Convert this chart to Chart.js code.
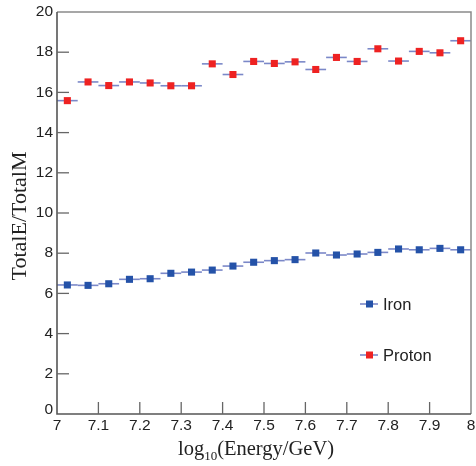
<!DOCTYPE html>
<html><head><meta charset="utf-8">
<script src="https://cdn.jsdelivr.net/npm/chart.js@4/dist/chart.umd.min.js"></script>
<style>html,body{margin:0;padding:0;background:#fff}#wrap{width:476px;height:466px}</style>
</head><body><div id="wrap"><canvas id="c" width="476" height="466"></canvas></div>
<script>
const energyBins = [7.025,7.075,7.125,7.175,7.225,7.275,7.325,7.375,7.425,7.475,7.525,7.575,7.625,7.675,7.725,7.775,7.825,7.875,7.925,7.975];
const binHalfWidth = 0.025;
const ironValues = [6.42,6.40,6.48,6.70,6.73,7.00,7.06,7.16,7.36,7.55,7.63,7.68,8.01,7.91,7.96,8.04,8.21,8.17,8.24,8.17];
const protonValues = [15.59,16.52,16.34,16.52,16.47,16.33,16.33,17.42,16.89,17.54,17.44,17.52,17.14,17.74,17.54,18.17,17.56,18.04,17.97,18.57];
const seriesNames = ['Iron','Proton'];
const xTickValues = [7,7.1,7.2,7.3,7.4,7.5,7.6,7.7,7.8,7.9,8];
const yTickValues = [0,2,4,6,8,10,12,14,16,18,20];
const yTitle = 'TotalE/TotalM';

const ironColor = '#2452a8', protonColor = '#ee2222', barColor = '#7b88c8';

const toPts = v => v.map((y,i)=>({x:energyBins[i], y}));

const decor = {
  id:'decor',
  beforeDatasetsDraw(chart){
    const {ctx, chartArea:a, scales:{x,y}} = chart;
    ctx.save();
    ctx.strokeStyle = barColor; ctx.lineWidth = 1.6;
    chart.data.datasets.forEach(ds=>{
      ds.data.forEach(p=>{
        const py = y.getPixelForValue(p.y);
        ctx.beginPath();
        ctx.moveTo(x.getPixelForValue(p.x-binHalfWidth), py);
        ctx.lineTo(x.getPixelForValue(p.x+binHalfWidth), py);
        ctx.stroke();
      });
    });
    ctx.restore();
  },
  afterDraw(chart){
    const {ctx, chartArea:a, scales:{x,y}} = chart;
    ctx.save();
    // frame
    ctx.strokeStyle = '#8a8a8a'; ctx.lineWidth = 1.5;
    ctx.beginPath(); ctx.moveTo(a.left,a.top); ctx.lineTo(a.right,a.top); ctx.lineTo(a.right,a.bottom); ctx.stroke();
    ctx.strokeStyle = '#555'; ctx.lineWidth = 1.6;
    ctx.beginPath(); ctx.moveTo(a.left,a.top); ctx.lineTo(a.left,a.bottom); ctx.lineTo(a.right,a.bottom); ctx.stroke();
    // inward ticks
    ctx.strokeStyle = '#666'; ctx.lineWidth = 1.3;
    xTickValues.forEach(v=>{ const px=x.getPixelForValue(v); if(px<=a.left+1||px>=a.right-1) return;
      ctx.beginPath(); ctx.moveTo(px,a.bottom); ctx.lineTo(px,a.bottom-12); ctx.stroke(); });
    yTickValues.forEach(v=>{ const py=y.getPixelForValue(v); if(py>=a.bottom-1||py<=a.top+1) return;
      ctx.beginPath(); ctx.moveTo(a.left,py); ctx.lineTo(a.left+12,py); ctx.stroke(); });
    // tick labels
    ctx.fillStyle = '#222'; ctx.font = '15.5px "Liberation Sans", Arial, sans-serif';
    ctx.textAlign='center'; ctx.textBaseline='middle';
    xTickValues.forEach(v=>{ ctx.fillText(String(v), x.getPixelForValue(v), a.bottom+12); });
    ctx.textAlign='right';
    yTickValues.forEach(v=>{ const py=y.getPixelForValue(v); ctx.fillText(String(v), a.left-4, v===0? py-4 : py); });
    // axis titles
    ctx.font = '22px "Liberation Serif", "Times New Roman", serif';
    ctx.textAlign='center'; ctx.textBaseline='middle';
    ctx.save(); ctx.translate(20,216); ctx.rotate(-Math.PI/2); ctx.fillText(yTitle,0,0); ctx.restore();
    // x title with subscript
    const p1='log', sub='10', p2='(Energy/GeV)';
    const f1='20.5px "Liberation Serif", serif', f2='13px "Liberation Serif", serif';
    ctx.font=f1; const w1=ctx.measureText(p1).width, w3=ctx.measureText(p2).width;
    ctx.font=f2; const w2=ctx.measureText(sub).width;
    let sx = 256 - (w1+w2+w3)/2; const ty=455;
    ctx.textAlign='left'; ctx.textBaseline='alphabetic';
    ctx.font=f1; ctx.fillText(p1,sx,ty); sx+=w1;
    ctx.font=f2; ctx.fillText(sub,sx,ty+5); sx+=w2;
    ctx.font=f1; ctx.fillText(p2,sx,ty);
    // legend
    const leg=[[seriesNames[0],ironColor,304],[seriesNames[1],protonColor,355]];
    leg.forEach(([name,col,ly])=>{
      ctx.strokeStyle=barColor; ctx.lineWidth=1.6;
      ctx.beginPath(); ctx.moveTo(360,ly); ctx.lineTo(378,ly); ctx.stroke();
      ctx.fillStyle=col; ctx.fillRect(366,ly-3.5,7,7);
      ctx.fillStyle='#222'; ctx.font='16.5px "Liberation Sans", Arial, sans-serif';
      ctx.textBaseline='middle'; ctx.textAlign='left'; ctx.fillText(name,383,ly+1);
    });
    ctx.restore();
  }
};

new Chart(document.getElementById('c'),{
  type:'scatter',
  data:{datasets:[
    {label:seriesNames[0], data:toPts(ironValues), backgroundColor:ironColor, borderColor:ironColor, pointStyle:'rect', pointRadius:5, borderWidth:0},
    {label:seriesNames[1], data:toPts(protonValues), backgroundColor:protonColor, borderColor:protonColor, pointStyle:'rect', pointRadius:5, borderWidth:0}
  ]},
  options:{
    responsive:false, animation:false, events:[],
    layout:{padding:{top:12,right:4,left:0,bottom:0}},
    plugins:{legend:{display:false}, tooltip:{enabled:false}},
    scales:{
      x:{type:'linear',min:7,max:8,grid:{display:false},border:{display:false},ticks:{display:false},
         afterFit(s){s.height=52;}},
      y:{type:'linear',min:0,max:20,grid:{display:false},border:{display:false},ticks:{display:false},
         afterFit(s){s.width=57;}}
    }
  },
  plugins:[decor]
});
</script></body></html>
